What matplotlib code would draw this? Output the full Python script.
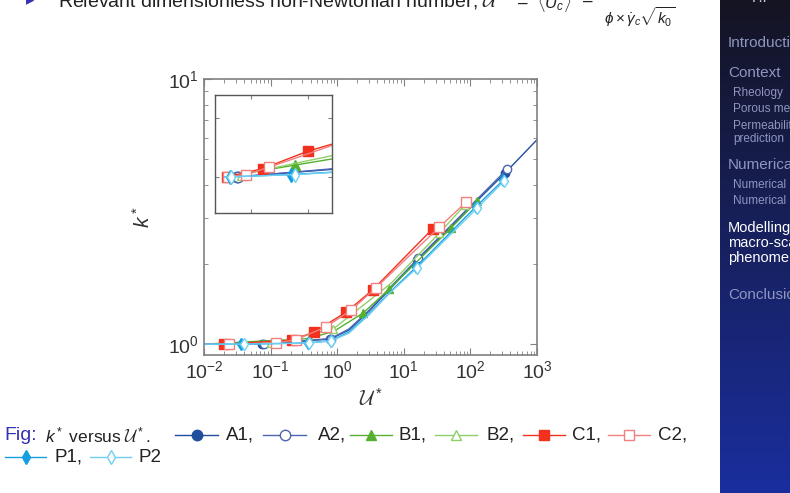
import numpy as np
import matplotlib.pyplot as plt

plt.rcParams['font.family'] = ['Liberation Sans', 'DejaVu Sans']
plt.rcParams['mathtext.fontset'] = 'custom'
plt.rcParams['mathtext.rm'] = 'Liberation Sans'
plt.rcParams['mathtext.it'] = 'Liberation Sans:italic'
plt.rcParams['mathtext.cal'] = 'cmsy10'

# data (U* , k*), markers only on some points
A1_u = [0.01, 0.074, 0.78, 1.5, 3.0, 6.0, 15.8, 331, 1000]
A1_k = [1.0, 1.0, 1.045, 1.13, 1.33, 1.6, 2.07, 4.42, 5.9]
A1_m = [1, 2, 6, 7]
A2_u = [0.01, 0.08, 0.8, 1.5, 3.0, 6.0, 16.5, 355]
A2_k = [1.0, 1.0, 1.05, 1.14, 1.34, 1.62, 2.11, 4.57]
A2_m = [1, 2, 6, 7]
B1_u = [0.01, 0.38, 0.9, 2.45, 6.0, 51, 126]
B1_k = [1.0, 1.05, 1.12, 1.31, 1.61, 2.74, 3.46]
B1_m = [1, 3, 4, 5, 6]
B2_u = [0.01, 0.1, 0.87, 6.5, 34, 83]
B2_k = [1.0, 1.01, 1.14, 1.7, 2.62, 3.35]
B2_m = [1, 2, 4, 5]
C1_u = [0.01, 0.02, 0.21, 0.45, 1.36, 3.4, 27]
C1_k = [1.0, 1.0, 1.035, 1.11, 1.32, 1.6, 2.72]
C1_m = [1, 2, 3, 4, 5, 6]
C2_u = [0.01, 0.024, 0.12, 0.24, 0.67, 1.6, 3.8, 34, 86]
C2_k = [1.0, 1.0, 1.01, 1.04, 1.16, 1.34, 1.63, 2.76, 3.43]
C2_m = [1, 2, 3, 4, 5, 6, 7, 8]
P1_u = [0.01, 0.036, 0.36, 0.8, 1.5, 3.0, 6.0, 15.3, 120, 310]
P1_k = [1.0, 1.0, 1.01, 1.03, 1.11, 1.3, 1.56, 1.95, 3.29, 4.15]
P1_m = [1, 2, 3, 7, 8, 9]
P2_u = [0.01, 0.04, 0.38, 0.82, 1.5, 3.0, 6.0, 15.8, 125, 320]
P2_k = [1.0, 1.0, 1.01, 1.03, 1.1, 1.29, 1.55, 1.94, 3.25, 4.12]
P2_m = [1, 2, 3, 7, 8, 9]

names = ['A1', 'A2', 'B1', 'B2', 'C1', 'C2', 'P1', 'P2']
colors = ['#1f4e9f', '#4a66b3', '#55b030', '#8fd06a', '#f3301c', '#f08080', '#169fe0', '#6fd0f4']
markers = ['o', 'o', '^', '^', 's', 's', 'd', 'd']
filled = [True, False, True, False, True, False, True, False]
msizes = [6, 6, 6, 6, 6.5, 6.5, 6, 6]
data = [(A1_u, A1_k, A1_m), (A2_u, A2_k, A2_m), (B1_u, B1_k, B1_m), (B2_u, B2_k, B2_m),
        (C1_u, C1_k, C1_m), (C2_u, C2_k, C2_m), (P1_u, P1_k, P1_m), (P2_u, P2_k, P2_m)]

W, H = 790, 493
fig = plt.figure(figsize=(W / 100, H / 100), dpi=100)

def style(i, ms=None):
    return dict(color=colors[i], lw=1.0, marker=markers[i], ms=ms or msizes[i],
                mfc=colors[i] if filled[i] else 'white', mec=colors[i], mew=1.0)

# main axes
ax = fig.add_axes([204 / W, 1 - 355 / H, 333 / W, 276 / H])
for i, (u, k, m) in enumerate(data):
    ax.plot(u, k, markevery=m, **style(i))
ax.set_xscale('log')
ax.set_yscale('log')
ax.set_xlim(1e-2, 1e3)
ax.set_ylim(0.91, 10)
ax.set_xticks([1e-2, 1e-1, 1e0, 1e1, 1e2, 1e3])
ax.set_xticklabels(['$10^{-2}$', '$10^{-1}$', '$10^{0}$', '$10^{1}$', '$10^{2}$', '$10^{3}$'])
ax.set_yticks([1, 10])
ax.set_yticklabels(['$10^{0}$', '$10^{1}$'])
ax.tick_params(which='both', direction='in', top=True, right=True, color='#808080',
               labelsize=14, labelcolor='#333333')
ax.tick_params(which='major', length=5, pad=4)
ax.tick_params(which='minor', length=3)
for s in ax.spines.values():
    s.set_color('#808080')
    s.set_linewidth(1.2)
ax.set_xlabel(r'$\mathcal{U}^*$', fontsize=15, color='#333333')
ax.xaxis.set_label_coords(0.5, -0.12)
ax.set_ylabel(r'$k^*$', fontsize=15, color='#333333')
ax.yaxis.set_label_coords(-0.15, 0.5)

# inset
ins = fig.add_axes([215 / W, 1 - 213 / H, 117 / W, 118 / H])
for i, (u, k, m) in enumerate(data):
    ins.plot(u, k, markevery=m, **style(i, 7.5))
ins.set_xlim(-0.042, 0.574)
ins.set_ylim(0.847, 1.347)
ins.set_xticks([0.15, 0.45])
ins.set_yticks([1.0, 1.25])
ins.tick_params(direction='in', top=True, right=True, length=3, color='#808080',
                labelbottom=False, labelleft=False)
for s in ins.spines.values():
    s.set_color('#555555')
    s.set_linewidth(1.0)

# sidebar gradient
sb = fig.add_axes([720 / W, 0, 70 / W, 1])
top = np.array([20, 20, 34]) / 255
bot = np.array([26, 46, 158]) / 255
t = np.linspace(0, 1, 256)[:, None]
grad = top[None, :] * (1 - t) + bot[None, :] * t
sb.imshow(grad[:, None, :], aspect='auto', extent=[0, 1, 1, 0])
sb.axis('off')

# overlay for slide text
ov = fig.add_axes([0, 0, 1, 1])
ov.set_xlim(0, W)
ov.set_ylim(H, 0)
ov.axis('off')

ov.text(26, 1, '\u25b8', color='#3333b3', fontsize=12, va='center')
ov.text(58, 0, r'Relevant dimensionless non-Newtonian number, $\mathcal{U}^*$  =', fontsize=14,
        color='#222222', va='center')
ov.text(537, 2, r'$\langle U_c\rangle$', fontsize=12, color='#222222', va='center')
ov.text(582, 0, '=', fontsize=14, color='#222222', va='center')
ov.text(604, 17, r'$\phi\times\dot{\gamma}_c\sqrt{k_0}$', fontsize=11, color='#222222', va='center')

# sidebar text
side = [('F.P', 752, -2, 11, '#c8cce0'),
        ('Introduction', 728, 43, 11, '#8f96c0'),
        ('Context', 728, 73, 11, '#8f96c0'),
        ('Rheology', 733, 93, 8.5, '#8f96c0'),
        ('Porous media', 733, 109, 8.5, '#8f96c0'),
        ('Permeability', 733, 126, 8.5, '#8f96c0'),
        ('prediction', 733, 139, 8.5, '#8f96c0'),
        ('Numerical', 728, 165, 11, '#8f96c0'),
        ('Numerical', 733, 185, 8.5, '#8f96c0'),
        ('Numerical', 733, 201, 8.5, '#8f96c0'),
        ('Modelling', 728, 228, 10.5, 'white'),
        ('macro-scale', 728, 243, 10.5, 'white'),
        ('phenomena', 728, 258, 10.5, 'white'),
        ('Conclusion', 728, 295, 11, '#8f96c0')]
for s, x, y, fs, c in side:
    ov.text(x, y, s, fontsize=fs, color=c, va='center', clip_on=False)

# caption with legend samples
cy1, cy2 = 435, 457
ov.text(4, cy1, 'Fig:', fontsize=14, color='#3333b3', va='center')
ov.text(45, cy1, r'$k^*$ versus $\mathcal{U}^*$.', fontsize=12.5, color='#222222', va='center')
leg = [(175, 218, 226, cy1), (263, 306, 318, cy1), (350, 392, 398, cy1), (435, 477, 487, cy1),
       (523, 565, 572, cy1), (608, 650, 658, cy1), (5, 46, 55, cy2), (90, 131, 138, cy2)]
for i, (x0, x1, xt, y) in enumerate(leg):
    ov.plot([x0, (x0 + x1) / 2, x1], [y, y, y], markevery=[1], **style(i, 7.5))
    lab = names[i] + (',' if i < len(names) - 1 else '')
    ov.text(xt, y, lab, fontsize=13.5, color='#222222', va='center')

fig.savefig('out.png', dpi=100)
